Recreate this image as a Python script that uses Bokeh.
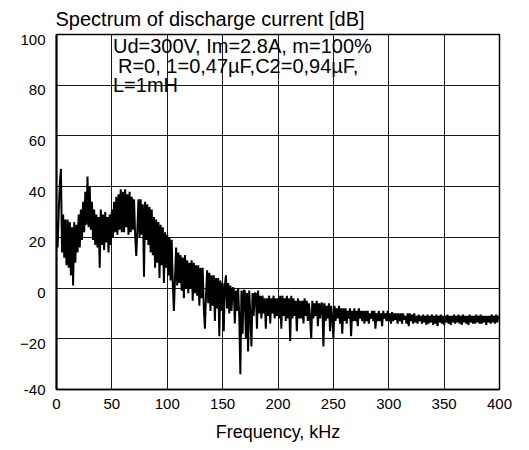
from bokeh.plotting import figure
from bokeh.models import Range1d, Label, FixedTicker, LinearAxis
from bokeh.embed import file_html
from bokeh.resources import INLINE

title_text = "Spectrum of discharge current [dB]"
x_label = "Frequency, kHz"
note_lines = ["Ud=300V, Im=2.8A, m=100%", "R=0, 1=0,47\u00b5F,C2=0,94\u00b5F,", "L=1mH"]
x_ticks = [0, 50, 100, 150, 200, 250, 300, 350, 400]
y_ticks = [-40, -20, 0, 20, 40, 60, 80, 100]

# spectrum values, 1 kHz apart (0..400 kHz)
db_000 = [26, 16, 30, 41, 47, 14, 29, 12, 27, 9]
db_010 = [27, 8, 26, 5, 24, 1, 26, 10, 25, 14]
db_020 = [29, 16, 31, 19, 34, 22, 38, 25, 44, 24]
db_030 = [40, 23, 34, 19, 31, 17, 29, 16, 28, 8]
db_040 = [31, 17, 29, 15, 30, 18, 28, 14, 29, 17]
db_050 = [31, 20, 34, 22, 36, 21, 37, 23, 39, 22]
db_060 = [38, 22, 39, 24, 37, 21, 38, 22, 36, 23]
db_070 = [35, 21, 12.7, 23, 35, 20, 35, 21, 33, 4.5]
db_080 = [34, 19, 33, 17, 32, 14, 31, 13, 28, 8]
db_090 = [27, 10, 26, 4, 25, 9, 24, 2, 22, 8]
db_100 = [21, 5, 20, 3, 19, 2, -9, 4, 16, 1]
db_110 = [14, 2, 13, -1, 12, -4, 13, 0, 11, -2]
db_120 = [10, 0, 11, -5, 10, -2, 9, -3, 9, -7]
db_130 = [8, -4, 8, -8, -16, -3, 7, -6, 6, -9]
db_140 = [5, -7, 5, -13, 4, -8, 4, -19, 3, -9]
db_150 = [2, -17, 1, 5, -8, 2, -10, 1, -9, 0]
db_160 = [0, -14, -1, -9, 0, -11, -34, -1, -18, -1]
db_170 = [-1, -20, -2, -25, -1, -10, -23, -2, -11, -2]
db_180 = [-2, -16, -1, -10, -3, -12, -3, -10, -4, -16]
db_190 = [-4, -11, -3, -14, -4, -10, -3, -12, -4, -11]
db_200 = [-4, -12, -3, -16, -3, -11, -4, -13, -3, -12]
db_210 = [-4, -21, -3, -12, -4, -11, -5, -17, -4, -12]
db_220 = [-5, -12, -5, -14, -4, -11, -5, -13, -6, -12]
db_230 = [-20, -5, -12, -6, -11, -5, -15, -6, -12, -6]
db_240 = [-6, -23, -6, -13, -7, -12, -6, -17, -7, -12]
db_250 = [-20, -7, -13, -8, -12, -7, -14, -8, -18, -8]
db_260 = [-13, -8, -14, -9, -12, -8, -19, -9, -13, -8]
db_270 = [-13, -9, -15, -8, -12, -9, -13, -9, -14, -9]
db_280 = [-13, -9, -14, -10, -12, -9, -13, -9, -16, -10]
db_290 = [-13, -9, -13, -10, -15, -9, -12, -10, -13, -9]
db_300 = [-13, -10, -14, -9.5, -13, -10, -12.5, -10, -14, -10]
db_310 = [-13, -10, -14, -10, -12.5, -11, -14, -10, -15, -10]
db_320 = [-13, -10.5, -14, -10, -13.5, -11, -14, -10.5, -13, -11]
db_330 = [-14, -10.5, -13.5, -11, -14.5, -10.5, -14, -11, -13.5, -10.5]
db_340 = [-14.5, -11, -14, -10.5, -15, -11, -13.5, -10.5, -14, -11]
db_350 = [-14.5, -11, -13.5, -10.5, -14, -11, -14.5, -11, -13.5, -10.5]
db_360 = [-14, -11, -13.5, -10.5, -14, -11, -14.5, -10.5, -13.5, -11]
db_370 = [-14, -11, -14.5, -10.5, -13.5, -11, -14, -11, -14, -10.5]
db_380 = [-13.5, -11, -14, -10.5, -14, -11, -13.5, -11, -14.5, -11]
db_390 = [-13.5, -11, -14, -10.5, -13.5, -11, -14, -10.5, -13.5, -11]
db_400 = [-12]

spectrum_db = (db_000 + db_010 + db_020 + db_030 + db_040 + db_050 + db_060 + db_070
               + db_080 + db_090 + db_100 + db_110 + db_120 + db_130 + db_140 + db_150
               + db_160 + db_170 + db_180 + db_190 + db_200 + db_210 + db_220 + db_230
               + db_240 + db_250 + db_260 + db_270 + db_280 + db_290 + db_300 + db_310
               + db_320 + db_330 + db_340 + db_350 + db_360 + db_370 + db_380 + db_390
               + db_400)
freq_khz = list(range(len(spectrum_db)))

FONT = "Liberation Sans"
Y0, Y1 = -40, 100
LABEL_SHIFT = 2.0  # tick labels sit slightly below their grid lines in the original

p = figure(width=529, height=450, output_backend="svg", toolbar_location=None,
           x_range=Range1d(0, 400), y_range=Range1d(Y0, Y1),
           min_border_left=56, min_border_right=30, min_border_top=33, min_border_bottom=61,
           title=title_text)

p.background_fill_color = "white"
p.border_fill_color = "white"
p.outline_line_color = "black"
p.outline_line_width = 1.5

p.title.text_font = FONT
p.title.text_font_size = "20px"
p.title.text_font_style = "normal"
p.title.text_color = "black"
p.title.align = "left"
p.title.offset = -1
p.title.standoff = 10

p.xaxis.ticker = FixedTicker(ticks=x_ticks)
p.xgrid.ticker = FixedTicker(ticks=x_ticks)
p.ygrid.ticker = FixedTicker(ticks=y_ticks)
p.yaxis.visible = False

# label axis: same scale, shifted so labels sit just under their grid lines;
# the bottom label sits on its grid line (range start)
p.extra_y_ranges = {"labels": Range1d(Y0 + LABEL_SHIFT, Y1 + LABEL_SHIFT)}
label_ticks = [Y0 + LABEL_SHIFT] + y_ticks[1:]
yax = LinearAxis(y_range_name="labels", ticker=FixedTicker(ticks=label_ticks),
                 major_label_overrides={Y0 + LABEL_SHIFT: str(Y0)})
p.add_layout(yax, "left")

for ax in (p.xaxis, yax):
    ax.major_tick_line_color = None
    ax.minor_tick_line_color = None
    ax.major_tick_out = 0
    ax.major_tick_in = 0
    ax.axis_line_color = "black"
    ax.major_label_text_font = FONT
    ax.major_label_text_font_size = "15px"
    ax.major_label_text_color = "black"
yax.axis_line_width = 2
yax.major_label_standoff = 11
p.xaxis.axis_line_width = 1.5
p.xaxis.major_label_standoff = 9

p.xaxis.axis_label = x_label
p.xaxis.axis_label_text_font = FONT
p.xaxis.axis_label_text_font_size = "18px"
p.xaxis.axis_label_text_font_style = "normal"
p.xaxis.axis_label_text_color = "black"
p.xaxis.axis_label_standoff = 10

p.grid.grid_line_color = "#1a1a1a"
p.grid.grid_line_width = 1
p.grid.grid_line_alpha = 1

p.line(freq_khz, spectrum_db, line_color="black", line_width=2)

note_y = [99.8, 91.8, 84.3]
note_x = [51.0, 55.5, 51.0]
for txt, nx, ny in zip(note_lines, note_x, note_y):
    p.add_layout(Label(x=nx, y=ny, text=txt, text_font=FONT, text_font_size="20px",
                       text_color="black", text_baseline="top", text_align="left"))

open("out.html", "w").write(file_html(p, INLINE))
